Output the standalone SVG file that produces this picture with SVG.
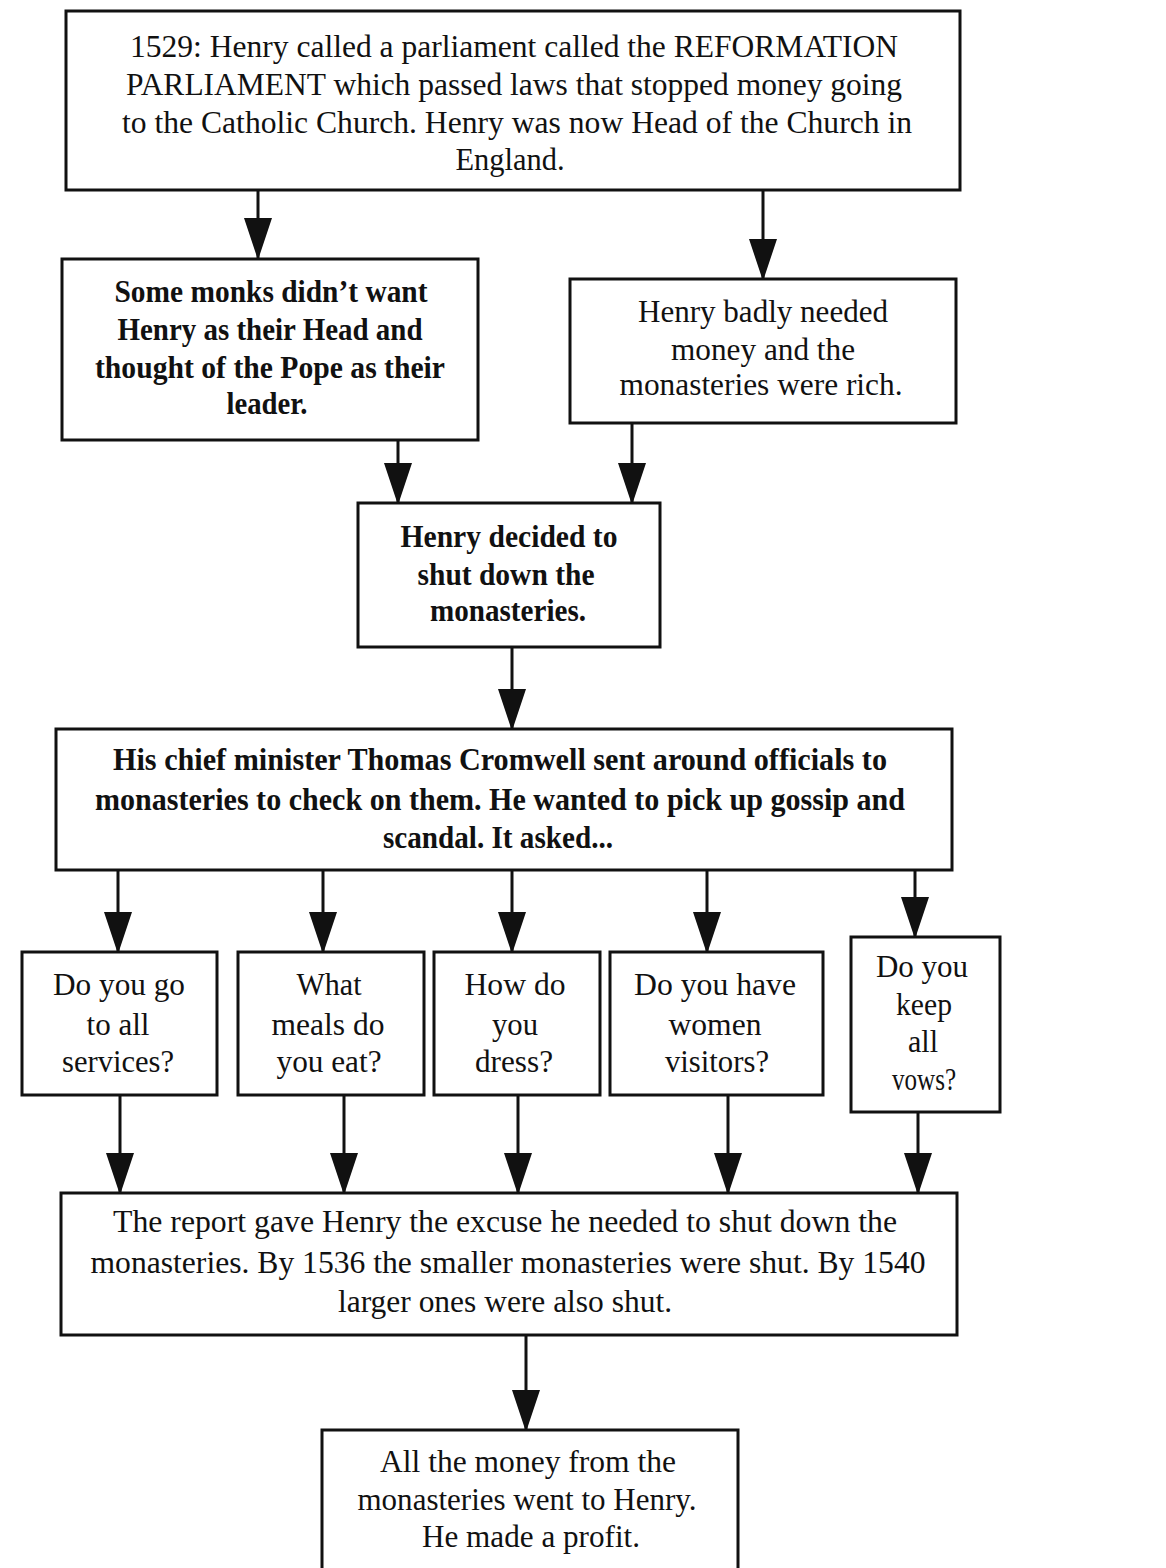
<svg xmlns="http://www.w3.org/2000/svg" width="1166" height="1568" viewBox="0 0 1166 1568">
<style>
.box{fill:#fff;stroke:#111;stroke-width:3}
.t{font-family:"Liberation Serif","Times New Roman",serif;font-size:32px;fill:#111;text-anchor:middle}
.b{font-weight:bold}
.c{stroke:#111;stroke-width:3;fill:none;marker-end:url(#ah)}
</style>
<defs>
<marker id="ah" viewBox="0 0 42 28" refX="40" refY="14" markerUnits="userSpaceOnUse" markerWidth="42" markerHeight="28" orient="auto">
<path d="M0,0 L42,14 L0,28 Z" fill="#111"/>
</marker>
</defs>
<rect width="1166" height="1568" fill="#fff"/>
<g id="connectors">
<line class="c" x1="258" y1="190" x2="258" y2="258"/>
<line class="c" x1="763" y1="190" x2="763" y2="279"/>
<line class="c" x1="398" y1="440" x2="398" y2="503"/>
<line class="c" x1="632" y1="423" x2="632" y2="503"/>
<line class="c" x1="512" y1="647" x2="512" y2="729"/>
<line class="c" x1="118" y1="870" x2="118" y2="952"/>
<line class="c" x1="323" y1="870" x2="323" y2="952"/>
<line class="c" x1="512" y1="870" x2="512" y2="952"/>
<line class="c" x1="707" y1="870" x2="707" y2="952"/>
<line class="c" x1="915" y1="870" x2="915" y2="937"/>
<line class="c" x1="120" y1="1095" x2="120" y2="1193"/>
<line class="c" x1="344" y1="1095" x2="344" y2="1193"/>
<line class="c" x1="518" y1="1095" x2="518" y2="1193"/>
<line class="c" x1="728" y1="1095" x2="728" y2="1193"/>
<line class="c" x1="918" y1="1112" x2="918" y2="1193"/>
<line class="c" x1="526" y1="1335" x2="526" y2="1430"/>
</g>
<g id="n1">
<rect class="box" x="66" y="11" width="894" height="179"/>
<text class="t" x="514" y="57" textLength="768" lengthAdjust="spacingAndGlyphs">1529: Henry called a parliament called the REFORMATION</text>
<text class="t" x="514" y="95" textLength="776" lengthAdjust="spacingAndGlyphs">PARLIAMENT which passed laws that stopped money going</text>
<text class="t" x="517" y="133" textLength="790" lengthAdjust="spacingAndGlyphs">to the Catholic Church. Henry was now Head of the Church in</text>
<text class="t" x="510" y="170" textLength="109" lengthAdjust="spacingAndGlyphs">England.</text>
</g>
<g id="n2">
<rect class="box" x="62" y="259" width="416" height="181"/>
<text class="t b" x="271" y="302" textLength="313" lengthAdjust="spacingAndGlyphs">Some monks didn’t want</text>
<text class="t b" x="270" y="340" textLength="305" lengthAdjust="spacingAndGlyphs">Henry as their Head and</text>
<text class="t b" x="270" y="378" textLength="350" lengthAdjust="spacingAndGlyphs">thought of the Pope as their</text>
<text class="t b" x="267" y="414" textLength="81" lengthAdjust="spacingAndGlyphs">leader.</text>
</g>
<g id="n3">
<rect class="box" x="570" y="279" width="386" height="144"/>
<text class="t" x="763" y="322" textLength="250" lengthAdjust="spacingAndGlyphs">Henry badly needed</text>
<text class="t" x="763" y="360" textLength="184" lengthAdjust="spacingAndGlyphs">money and the</text>
<text class="t" x="761" y="395" textLength="283" lengthAdjust="spacingAndGlyphs">monasteries were rich.</text>
</g>
<g id="n4">
<rect class="box" x="358" y="503" width="302" height="144"/>
<text class="t b" x="509" y="547" textLength="217" lengthAdjust="spacingAndGlyphs">Henry decided to</text>
<text class="t b" x="506" y="585" textLength="177" lengthAdjust="spacingAndGlyphs">shut down the</text>
<text class="t b" x="508" y="621" textLength="156" lengthAdjust="spacingAndGlyphs">monasteries.</text>
</g>
<g id="n5">
<rect class="box" x="56" y="729" width="896" height="141"/>
<text class="t b" x="500" y="770" textLength="774" lengthAdjust="spacingAndGlyphs">His chief minister Thomas Cromwell sent around officials to</text>
<text class="t b" x="500" y="810" textLength="810" lengthAdjust="spacingAndGlyphs">monasteries to check on them. He wanted to pick up gossip and</text>
<text class="t b" x="498" y="848" textLength="230" lengthAdjust="spacingAndGlyphs">scandal. It asked...</text>
</g>
<g id="q1">
<rect class="box" x="22" y="952" width="195" height="143"/>
<text class="t" x="119" y="995" textLength="132" lengthAdjust="spacingAndGlyphs">Do you go</text>
<text class="t" x="118" y="1035" textLength="63" lengthAdjust="spacingAndGlyphs">to all</text>
<text class="t" x="118" y="1072" textLength="112" lengthAdjust="spacingAndGlyphs">services?</text>
</g>
<g id="q2">
<rect class="box" x="238" y="952" width="186" height="143"/>
<text class="t" x="329" y="995" textLength="65" lengthAdjust="spacingAndGlyphs">What</text>
<text class="t" x="328" y="1035" textLength="113" lengthAdjust="spacingAndGlyphs">meals do</text>
<text class="t" x="329" y="1072" textLength="105" lengthAdjust="spacingAndGlyphs">you eat?</text>
</g>
<g id="q3">
<rect class="box" x="434" y="952" width="166" height="143"/>
<text class="t" x="515" y="995" textLength="101" lengthAdjust="spacingAndGlyphs">How do</text>
<text class="t" x="515" y="1035" textLength="46" lengthAdjust="spacingAndGlyphs">you</text>
<text class="t" x="514" y="1072" textLength="78" lengthAdjust="spacingAndGlyphs">dress?</text>
</g>
<g id="q4">
<rect class="box" x="610" y="952" width="213" height="143"/>
<text class="t" x="715" y="995" textLength="162" lengthAdjust="spacingAndGlyphs">Do you have</text>
<text class="t" x="715" y="1035" textLength="93" lengthAdjust="spacingAndGlyphs">women</text>
<text class="t" x="717" y="1072" textLength="104" lengthAdjust="spacingAndGlyphs">visitors?</text>
</g>
<g id="q5">
<rect class="box" x="851" y="937" width="149" height="175"/>
<text class="t" x="922" y="977" textLength="92" lengthAdjust="spacingAndGlyphs">Do you</text>
<text class="t" x="924" y="1015" textLength="56" lengthAdjust="spacingAndGlyphs">keep</text>
<text class="t" x="923" y="1052" textLength="30" lengthAdjust="spacingAndGlyphs">all</text>
<text class="t" x="924" y="1090" textLength="64" lengthAdjust="spacingAndGlyphs">vows?</text>
</g>
<g id="n6">
<rect class="box" x="61" y="1193" width="896" height="142"/>
<text class="t" x="505" y="1232" textLength="784" lengthAdjust="spacingAndGlyphs">The report gave Henry the excuse he needed to shut down the</text>
<text class="t" x="508" y="1273" textLength="835" lengthAdjust="spacingAndGlyphs">monasteries. By 1536 the smaller monasteries were shut. By 1540</text>
<text class="t" x="505" y="1312" textLength="334" lengthAdjust="spacingAndGlyphs">larger ones were also shut.</text>
</g>
<g id="n7">
<rect class="box" x="322" y="1430" width="416" height="160"/>
<text class="t" x="528" y="1472" textLength="296" lengthAdjust="spacingAndGlyphs">All the money from the</text>
<text class="t" x="527" y="1510" textLength="339" lengthAdjust="spacingAndGlyphs">monasteries went to Henry.</text>
<text class="t" x="531" y="1547" textLength="218" lengthAdjust="spacingAndGlyphs">He made a profit.</text>
</g>
</svg>
